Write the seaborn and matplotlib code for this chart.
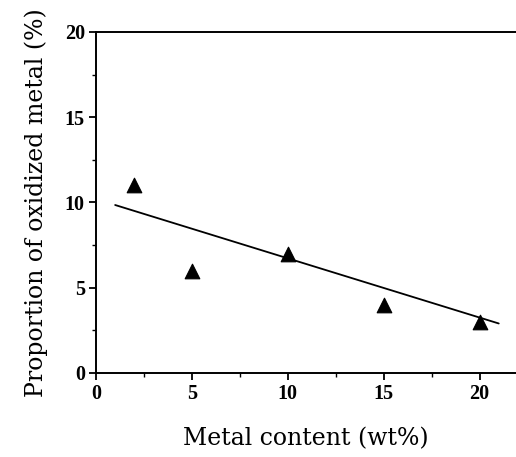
import pandas as pd
import matplotlib.pyplot as plt
import seaborn as sns
from matplotlib.ticker import MultipleLocator

sns.set_style("ticks")
plt.rcParams['font.family'] = ['Liberation Serif', 'DejaVu Serif']
plt.rcParams.update({'text.color': 'black', 'axes.labelcolor': 'black',
                     'xtick.color': 'black', 'ytick.color': 'black',
                     'axes.edgecolor': 'black'})

# measured points
metal_wt = [2, 5, 10, 15, 20]
oxidized_pct = [11, 6, 7, 4, 3]

# trend line drawn in the original (end points)
fit_x = [1, 21]
fit_y = [9.85, 2.9]

df = pd.DataFrame({'metal': metal_wt, 'oxid': oxidized_pct})
df_fit = pd.DataFrame({'metal': fit_x, 'oxid': fit_y})

fig = plt.figure(figsize=(5.16, 4.57), dpi=100)
ax = fig.add_axes([0.186, 0.184, 0.814, 0.746])

sns.lineplot(x='metal', y='oxid', data=df_fit, color='black', linewidth=1.3, ax=ax)
sns.scatterplot(x='metal', y='oxid', data=df, marker='^', s=110, color='black',
                edgecolor='black', ax=ax, zorder=3)

ax.set_xlim(0, 21.9)
ax.set_ylim(0, 20)
ax.xaxis.set_major_locator(MultipleLocator(5))
ax.yaxis.set_major_locator(MultipleLocator(5))
ax.xaxis.set_minor_locator(MultipleLocator(2.5))
ax.yaxis.set_minor_locator(MultipleLocator(2.5))

ax.spines['right'].set_visible(False)
for s in ['left', 'top', 'bottom']:
    ax.spines[s].set_linewidth(1.4)

ax.tick_params(which='major', direction='out', length=5, width=1.3, labelsize=14.5, pad=3)
ax.tick_params(which='minor', direction='out', length=3, width=1.0)
for lbl in ax.get_xticklabels() + ax.get_yticklabels():
    lbl.set_fontweight('bold')

ax.set_xlabel('Metal content (wt%)', fontsize=17, family='DejaVu Serif', labelpad=17)
ax.set_ylabel('Proportion of oxidized metal (%)', fontsize=17, family='DejaVu Serif', labelpad=12)

plt.savefig('out.png', dpi=100)
